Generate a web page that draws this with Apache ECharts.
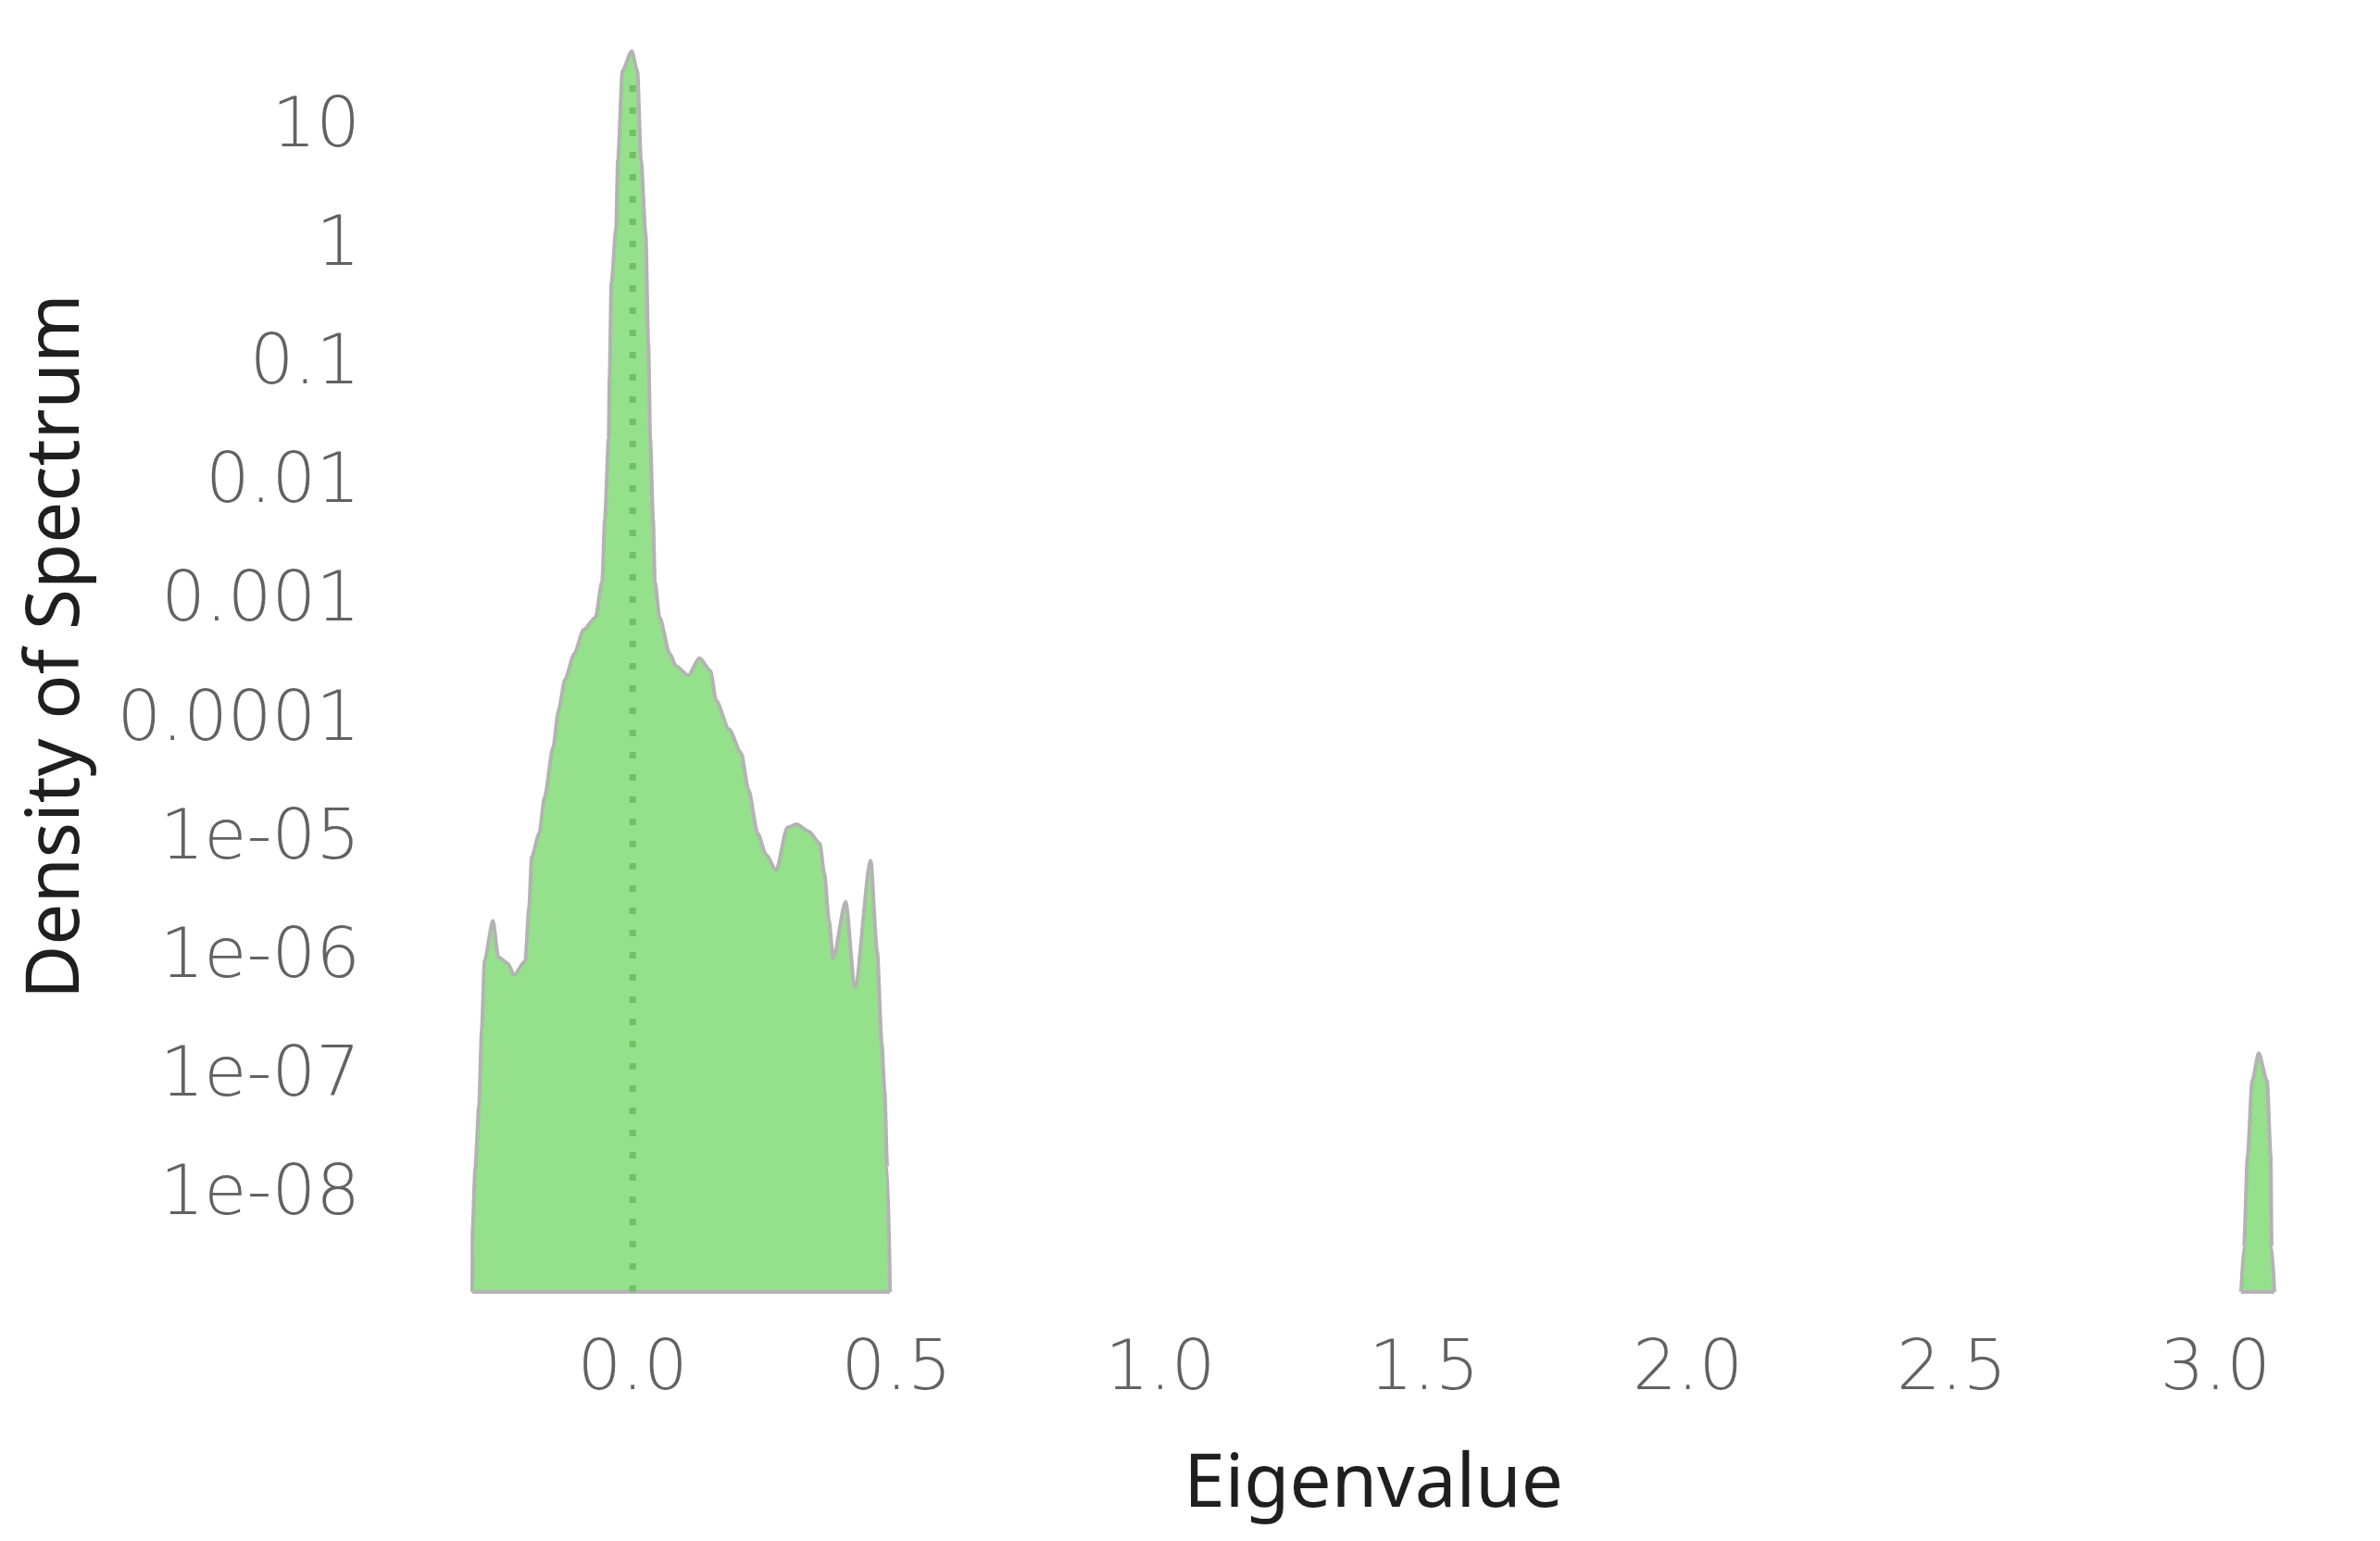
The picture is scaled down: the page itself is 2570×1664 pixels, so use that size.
<!DOCTYPE html>
<html>
<head>
<meta charset="utf-8">
<title>Density of Spectrum</title>
<script src="https://cdn.jsdelivr.net/npm/echarts@6/dist/echarts.min.js"></script>
<style>
  html, body { margin: 0; padding: 0; background: #fff; }
  #chart { width: 2570px; height: 1664px; }
</style>
</head>
<body>
<div id="chart"></div>
<script>
// bulk of the spectrum: eigenvalue and density
const bulkEigenvalues = [
  -0.3040, -0.3036, -0.2984, -0.2913, -0.2861, -0.2808, -0.2650, -0.2545, -0.2369, -0.2246,
  -0.2036, -0.1966, -0.1913, -0.1773, -0.1667, -0.1509, -0.1404, -0.1281, -0.1106, -0.0930,
  -0.0702, -0.0579, -0.0527, -0.0456, -0.0439, -0.0404, -0.0316, -0.0281, -0.0193, -0.0018,
  0.0088, 0.0158, 0.0246, 0.0298, 0.0333, 0.0386, 0.0421, 0.0509, 0.0702, 0.0825,
  0.1053, 0.1264, 0.1474, 0.1580, 0.1825, 0.2053, 0.2194, 0.2369, 0.2527, 0.2720,
  0.2931, 0.3106, 0.3335, 0.3545, 0.3633, 0.3721, 0.3800, 0.4036, 0.4212, 0.4510,
  0.4633, 0.4721, 0.4774, 0.4826, 0.4879
];
const bulkDensity = [
  1.35e-9, 4.6e-9, 1.5e-8, 5.0e-8, 2.2e-7, 8.3e-7, 1.8e-6, 8.9e-7, 7.9e-7, 6.3e-7,
  8.3e-7, 2.3e-6, 6.2e-6, 9.8e-6, 2.0e-5, 5.2e-5, 1.07e-4, 1.95e-4, 3.2e-4, 5.1e-4,
  6.5e-4, 1.3e-3, 4.4e-3, 0.021, 0.069, 0.42, 1.21, 4.6, 26, 38,
  26, 4.6, 1.09, 0.126, 0.021, 4.4e-3, 1.3e-3, 6.5e-4, 3.2e-4, 2.5e-4,
  2.1e-4, 2.95e-4, 2.3e-4, 1.3e-4, 7.4e-5, 4.7e-5, 2.3e-5, 9.8e-6, 6.5e-6, 4.8e-6,
  1.1e-5, 1.17e-5, 1.02e-5, 8.1e-6, 4.5e-6, 1.8e-6, 8.7e-7, 2.6e-6, 4.9e-7, 5.8e-6,
  1.0e-6, 1.66e-7, 6.8e-8, 1.5e-8, 1.35e-9
];

// isolated outlier eigenvalue near 3.08
const outlierEigenvalues = [3.0485, 3.0537, 3.0607, 3.0695, 3.0818, 3.0976, 3.1046, 3.1063, 3.1116];
const outlierDensity = [1.35e-9, 3.2e-9, 1.9e-8, 8.1e-8, 1.38e-7, 8.1e-8, 1.9e-8, 3.2e-9, 1.35e-9];

// axis range of the density and the dotted marker at zero
const densityFloor = 1.35e-9;
const densityCeil = 100;
const zeroMarkerTop = 26;

const yTickExponents = [-8, -7, -6, -5, -4, -3, -2, -1, 0, 1];
const yTickLabels = ['1e-08', '1e-07', '1e-06', '1e-05', '0.0001', '0.001', '0.01', '0.1', '1', '10'];
const xTickValues = [0, 0.5, 1, 1.5, 2, 2.5, 3];
const xTickLabels = ['0.0', '0.5', '1.0', '1.5', '2.0', '2.5', '3.0'];

const FILL = '#95e08a';
const EDGE = '#b3b3b3';
const TICK_FONT = {fontFamily: 'DejaVu Sans', fontWeight: 200, fontSize: 75, color: '#626262'};
const NAME_FONT = {fontFamily: 'Noto Sans', fontWeight: 400, fontSize: 80, color: '#1f1f1f'};

const log10 = (v) => Math.log10(v);
const toPoints = (xs, ys) => xs.map((x, i) => [x, log10(ys[i])]);

function yLabel(v) {
  const e = Math.round(v);
  if (Math.abs(v - e) > 1e-6) return '';
  const i = yTickExponents.indexOf(e);
  return i < 0 ? '' : '{t|' + yTickLabels[i] + '}';
}

function xLabel(v) {
  const i = xTickValues.findIndex((t) => Math.abs(t - v) < 1e-6);
  return i < 0 ? '' : xTickLabels[i];
}

function densitySeries(name, xs, ys) {
  return {
    name: name,
    type: 'line',
    data: toPoints(xs, ys),
    symbol: 'none',
    smooth: 0.25,
    smoothMonotone: 'x',
    lineStyle: {color: EDGE, width: 4},
    areaStyle: {color: FILL, opacity: 1, origin: 'start'},
    z: 2
  };
}

// gray outline along the bottom of each filled region
function baseSeries(xs) {
  return {
    type: 'line',
    data: [[xs[0], log10(densityFloor)], [xs[xs.length - 1], log10(densityFloor)]],
    symbol: 'none',
    clip: false,
    lineStyle: {color: EDGE, width: 4},
    z: 3
  };
}

const chart = echarts.init(document.getElementById('chart'), null, {renderer: 'canvas'});

const option = {
  animation: false,
  backgroundColor: '#ffffff',
  grid: {left: 510, right: 114, top: 1.3, bottom: 269, containLabel: false},
  xAxis: {
    type: 'value',
    min: bulkEigenvalues[0],
    max: outlierEigenvalues[outlierEigenvalues.length - 1],
    splitNumber: 5,
    name: 'Eigenvalue',
    nameLocation: 'middle',
    nameGap: 169,
    nameTextStyle: NAME_FONT,
    axisLine: {show: false},
    axisTick: {show: false},
    splitLine: {show: false},
    axisLabel: Object.assign({
      margin: 48,
      showMinLabel: false,
      showMaxLabel: false,
      formatter: xLabel
    }, TICK_FONT)
  },
  yAxis: {
    type: 'value',
    min: log10(densityFloor),
    max: log10(densityCeil),
    splitNumber: 10,
    name: 'Density of Spectrum',
    nameLocation: 'middle',
    nameGap: 408,
    nameTextStyle: NAME_FONT,
    axisLine: {show: false},
    axisTick: {show: false},
    splitLine: {show: false},
    axisLabel: Object.assign({
      margin: 121,
      showMinLabel: false,
      showMaxLabel: false,
      formatter: yLabel,
      rich: {t: Object.assign({padding: [17, 0, 0, 0]}, TICK_FONT)}
    }, TICK_FONT)
  },
  series: [
    densitySeries('bulk', bulkEigenvalues, bulkDensity),
    densitySeries('outlier', outlierEigenvalues, outlierDensity),
    baseSeries(bulkEigenvalues),
    baseSeries(outlierEigenvalues),
    {
      name: 'zero',
      type: 'line',
      data: [[0, log10(densityFloor)], [0, log10(zeroMarkerTop)]],
      symbol: 'none',
      lineStyle: {color: '#72c063', width: 7, type: [7, 17]},
      z: 4
    }
  ]
};

chart.setOption(option);
</script>
</body>
</html>
